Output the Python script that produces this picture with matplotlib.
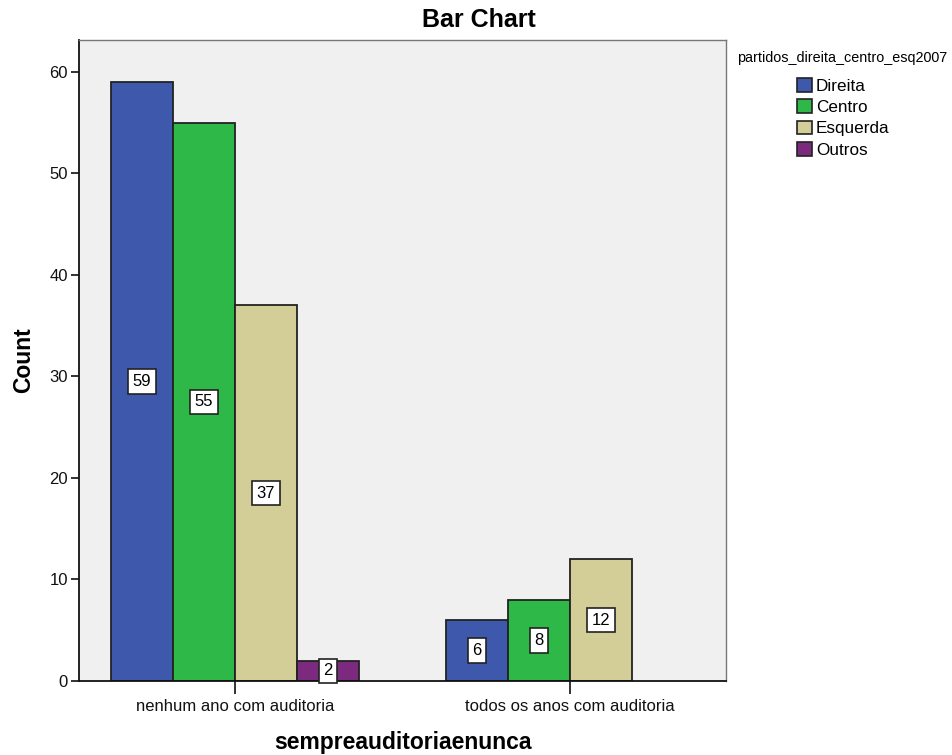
import matplotlib
matplotlib.use("Agg")
import matplotlib.pyplot as plt
from matplotlib.patches import Patch
import numpy as np

categories = ["nenhum ano com auditoria", "todos os anos com auditoria"]
series = ["Direita", "Centro", "Esquerda", "Outros"]
direita = [59, 6]
centro = [55, 8]
esquerda = [37, 12]
outros = [2, 0]
colors = ["#3e58ac", "#2eb848", "#d3ce97", "#7b2a7e"]

plt.rcParams['font.family'] = ['Liberation Sans', 'DejaVu Sans']

fig = plt.figure(figsize=(9.53, 7.55), dpi=100)
ax = fig.add_axes([79/953, 74/755, 647/953, 641/755])
ax.set_facecolor("#f0f0f0")

x = np.arange(len(categories))
w = 0.185
vals = [direita, centro, esquerda, outros]
for i, (name, v, c) in enumerate(zip(series, vals, colors)):
    offs = (i - 1.5) * w
    for j, val in enumerate(v):
        if val <= 0:
            continue
        ax.bar(x[j] + offs, val, width=w, color=c, edgecolor="#222222", linewidth=1.3, zorder=2)
        ax.text(x[j] + offs, val / 2, str(val), ha="center", va="center", fontsize=12,
                bbox=dict(boxstyle="square,pad=0.28", fc="white", ec="#222222", lw=1.2), zorder=3)

ax.set_xlim(-0.466, 1.466)
ax.set_ylim(0, 63.15)
ax.set_yticks([0, 10, 20, 30, 40, 50, 60])
ax.set_xticks(x)
ax.set_xticklabels(categories)
ax.tick_params(axis="y", direction="out", length=6, width=1.2, labelsize=12, pad=2, colors="#111111")
ax.tick_params(axis="x", direction="out", length=9, width=1.2, labelsize=12, pad=4, colors="#111111")
for s in ["left", "bottom"]:
    ax.spines[s].set_color("#111111")
    ax.spines[s].set_linewidth(1.3)
for s in ["top", "right"]:
    ax.spines[s].set_color("#777777")
    ax.spines[s].set_linewidth(1.0)

ax.set_ylabel("Count", fontsize=16.5, fontweight="bold", labelpad=10)
ax.set_xlabel("sempreauditoriaenunca", fontsize=16.5, fontweight="bold", labelpad=12)
fig.text(0.503, 0.974, "Bar Chart", ha="center", va="center", fontsize=18, fontweight="bold")

handles = [Patch(facecolor=c, edgecolor="#222222", linewidth=1.2) for c in colors]
fig.text(737/953, 1 - 58/755, "partidos_direita_centro_esq2007", fontsize=10.4, ha="left", va="center")
leg = fig.legend(handles, series, loc="upper left", bbox_to_anchor=(797/953, 1 - 78/755),
                 frameon=False, fontsize=12.3, handlelength=0.85, handleheight=0.85,
                 handletextpad=0.25, labelspacing=0.33, borderaxespad=0, borderpad=0)

fig.savefig("out.png", dpi=100, facecolor="white")
